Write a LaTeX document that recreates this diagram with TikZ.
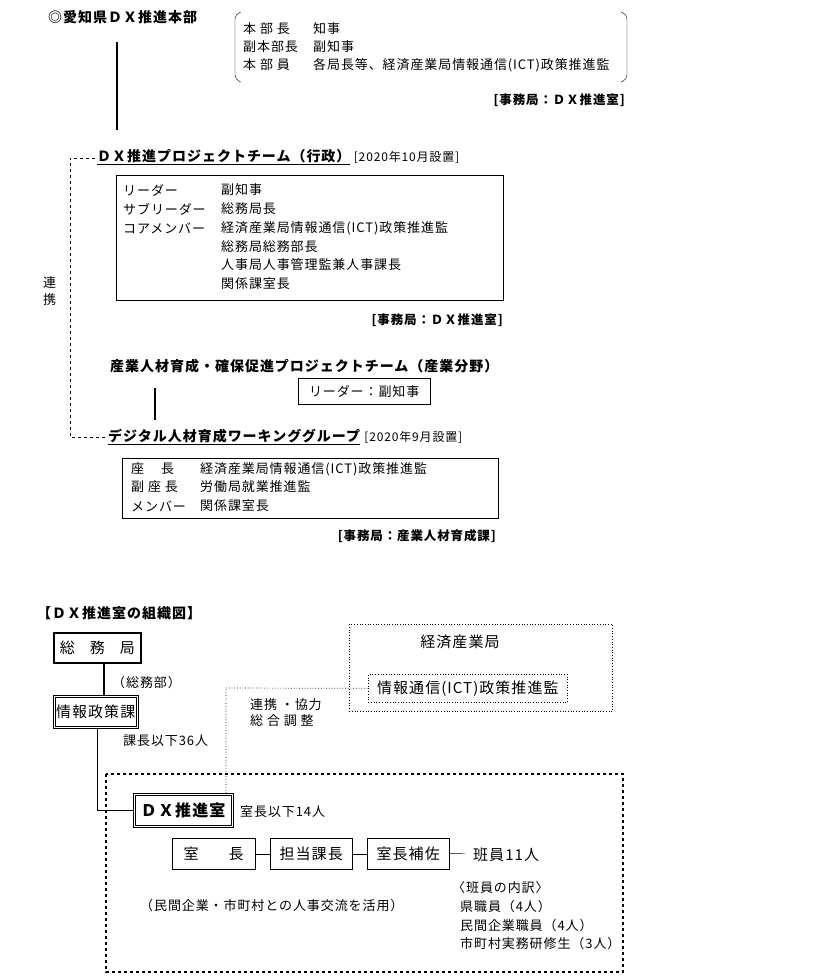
\documentclass[tikz,border=0pt]{standalone}
\usepackage{fontspec}
\setmainfont{Noto Sans CJK JP}[LetterSpace=7]
\usetikzlibrary{positioning}
\tikzset{
  t/.style={anchor=west,inner sep=0pt,font=\fontsize{13}{14}\selectfont},
  tb/.style={anchor=west,inner sep=0pt,font=\fontsize{14}{15}\selectfont\bfseries},
  tr/.style={anchor=east,inner sep=0pt,font=\fontsize{12.5}{13}\selectfont\bfseries},
  bx/.style={draw,thin},
  dt/.style={dotted,line width=0.7pt},
}
\begin{document}
\begin{tikzpicture}[x=1pt,y=-1pt]
\useasboundingbox (0,0) rectangle (816,976);
% top
\node[tb] (hq) at (48,17) {◎愛知県ＤＸ推進本部};
\draw[line width=1.3pt] (117,42) coordinate (l1) -- (117,130) coordinate (l2);
\draw[rounded corners=5] (241,12) -- (235,14) -- (235,80) -- (241,82);
\draw[rounded corners=5] (621,12) -- (627,14) -- (627,80) -- (621,82);
\node[t] (r1) at (243,29) {本 部 長};
\node[t] (r2) at (243,47) {副本部長};
\node[t] (r3) at (243,65) {本 部 員};
\node[t] (v1) at (313,29) {知事};
\node[t] (v2) at (313,47) {副知事};
\node[t] (v3) at (313,65) {各局長等、経済産業局情報通信(ICT)政策推進監};
\node[tr] (s1) at (625,100) {[事務局：ＤＸ推進室]};
% PT gyosei
\node[tb] (pt1) at (97,157) {\underline{ＤＸ推進プロジェクトチーム（行政）}};
\node[t,font=\fontsize{12}{12}\selectfont] (d1) at ([xshift=3]pt1.east) {[2020年10月設置]};
\coordinate (c1) at (70,158);
\coordinate (c2) at (70,437);
\draw[dashed,thick] (95,158) -- (c1) -- (c2) -- (105,437);
\node[t] (rk1) at (43,283) {連};
\node[t] (rk2) at (43,300) {携};
\node[bx,minimum width=387,minimum height=125,anchor=north west] (box1) at (116,175) {};
\foreach \y/\a/\b in {190/リーダー/副知事,209/サブリーダー/総務局長,228/コアメンバー/経済産業局情報通信(ICT)政策推進監,247//総務局総務部長,265//人事局人事管理監兼人事課長,284//関係課室長}{
  \node[t] at (123,\y) {\a};
  \node[t] at (221,\y) {\b};
}
\node[tr] (s2) at (503,320) {[事務局：ＤＸ推進室]};
\node[tb] (pt2) at (110,366) {産業人材育成・確保促進プロジェクトチーム（産業分野）};
\node[bx,minimum width=132,minimum height=26,anchor=north west,inner sep=0pt] (ld) at (298,378) {};
\node[t,anchor=center] at (ld.center) {リーダー：副知事};
\draw[line width=1.3pt] (155,388) -- (155,420);
\node[tb] (wg) at (108,437) {\underline{デジタル人材育成ワーキンググループ}};
\node[t,font=\fontsize{12}{12}\selectfont] (d2) at ([xshift=4]wg.east) {[2020年9月設置]};
\node[bx,minimum width=376,minimum height=60,anchor=north west] (box2) at (122,458) {};
\foreach \y/\a/\b in {469/座\quad\ 長/経済産業局情報通信(ICT)政策推進監,487/副 座 長/労働局就業推進監,506/メンバー/関係課室長}{
  \node[t] at (131,\y) {\a};
  \node[t] at (200,\y) {\b};
}
\node[tr] (s3) at (496,536) {[事務局：産業人材育成課]};
% bottom
\node[tb] (bt) at (37,613) {【ＤＸ推進室の組織図】};
\node[draw,line width=1.5pt,minimum width=87,minimum height=30,anchor=north west] (som) at (53,632) {};
\node[t,font=\fontsize{15}{16}\selectfont,anchor=center] at (som.center) {総\quad 務\quad 局};
\node[bx,minimum width=85,minimum height=33,anchor=north west] (jsk) at (53,695) {};
\draw[thin] ([shift={(2.5,2.5)}]jsk.north west) rectangle ([shift={(-2.5,-2.5)}]jsk.south east);
\node[t,font=\fontsize{15}{16}\selectfont,anchor=center] at (jsk.center) {情報政策課};
\draw[line width=1.3pt] (104,662) -- (jsk.north -| 104,0);
\node[t] at (112,683) {（総務部）};
\node[t] at (123,741) {課長以下36人};
\draw[dashed,line width=1.2pt] (106,774) rectangle (623,972);
\node[bx,minimum width=100,minimum height=34,anchor=north west] (dx) at (133,793) {};
\draw[thin] ([shift={(2.5,2.5)}]dx.north west) rectangle ([shift={(-2.5,-2.5)}]dx.south east);
\node[tb,font=\fontsize{16}{17}\selectfont\bfseries,anchor=center] at (dx.center) {ＤＸ推進室};
\draw (97,728) -- (97,810) -- (dx.west |- 0,810);
\node[t] at (240,812) {室長以下14人};
\node[draw,dt,minimum width=263,minimum height=87,anchor=north west] (keizai) at (349,624) {};
\node[t,font=\fontsize{15}{16}\selectfont,anchor=center] at (460,642) {経済産業局};
\node[draw,dt,minimum width=199,minimum height=28,anchor=north west] (ict) at (368,674) {};
\node[t,font=\fontsize{15}{16}\selectfont,anchor=center] at (ict.center) {情報通信(ICT)政策推進監};
\draw[dt] (226,793) -- (226,688) -- (ict.west);
\node[t] at (250,705) {連携 ・協力};
\node[t] at (250,721) {総 合 調 整};
\node[bx,minimum width=83,minimum height=31,anchor=north west] (sc) at (172,838) {};
\node[t,font=\fontsize{15}{16}\selectfont,anchor=center] at (sc.center) {室\qquad 長};
\node[bx,minimum width=82,minimum height=31,anchor=north west] (tk) at (270,838) {};
\node[t,font=\fontsize{15}{16}\selectfont,anchor=center] at (tk.center) {担当課長};
\node[bx,minimum width=82,minimum height=31,anchor=north west] (sh) at (367,838) {};
\node[t,font=\fontsize{15}{16}\selectfont,anchor=center] at (sh.center) {室長補佐};
\draw (sc.east) -- (tk.west);
\draw (tk.east) -- (sh.west);
\coordinate (hi) at (465,853.5);
\draw (sh.east) -- (hi);
\node[t,font=\fontsize{15}{16}\selectfont] at (473,855) {班員11人};
\node[t] at (140,906) {（民間企業・市町村との人事交流を活用）};
\node[t] at (452,888) {〈班員の内訳〉};
\node[t] at (460,907) {県職員（4人）};
\node[t] at (460,926) {民間企業職員（4人）};
\node[t] at (460,944) {市町村実務研修生（3人）};
\end{tikzpicture}
\end{document}
